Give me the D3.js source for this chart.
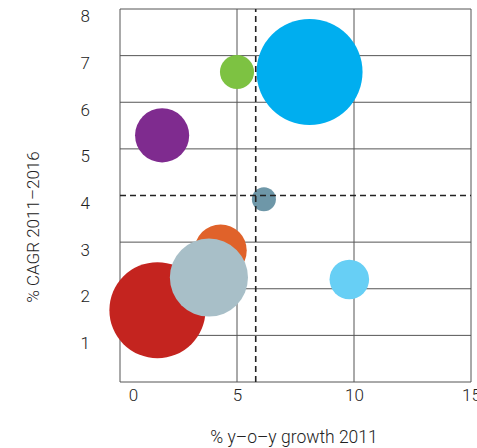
<!DOCTYPE html>
<html>
<head>
<meta charset="utf-8">
<script src="https://cdn.jsdelivr.net/npm/d3@7"></script>
<style>
  html, body { margin: 0; padding: 0; background: #fff; }
  svg text { font-family: Roboto, "Noto Sans", sans-serif; font-weight: 300; fill: #222; }
</style>
</head>
<body>
<div id="chart"></div>
<script>
// bubble data
const names  = ["orange", "red", "slate", "green", "blue", "purple", "steel", "sky"];
const growth = [4.3, 1.6, 3.8, 5.0, 8.1, 1.8, 6.15, 9.8];   // % y-o-y growth 2011
const cagr   = [2.82, 1.54, 2.24, 6.65, 6.65, 5.29, 3.92, 2.2]; // % CAGR 2011-2016
const sizes  = [6.8, 23, 15.2, 2.9, 28, 7.3, 1.44, 3.9];
const colors = ["#e0622a", "#c4241f", "#a8bfc8", "#7dc242", "#00aeef", "#7f2b8f", "#6e97a8", "#67cff5"];

const xTicks = [0, 5, 10, 15];
const yTicks = [1, 2, 3, 4, 5, 6, 7, 8];
const refX = 5.8;   // dashed vertical
const refY = 4.0;   // dashed horizontal

const W = 477, H = 448;
const margin = { top: 9, right: 6, bottom: 66, left: 120 };

const svg = d3.select("#chart").append("svg")
  .attr("width", W)
  .attr("height", H);

const x = d3.scaleLinear().domain([0, 15]).range([margin.left, W - margin.right]);
const y = d3.scaleLinear().domain([0, 8]).range([H - margin.bottom, margin.top]);
const r = d3.scaleSqrt().domain([0, 28]).range([0, 53]);

const data = names.map((n, i) => ({ name: n, gx: growth[i], cy: cagr[i], s: sizes[i], c: colors[i] }));

// grid
const grid = svg.append("g");
grid.selectAll(".hg").data(yTicks.filter(t => t !== refY)).enter().append("line")
  .attr("x1", x(0)).attr("x2", x(15))
  .attr("y1", d => y(d)).attr("y2", d => y(d))
  .attr("stroke", "#555").attr("stroke-width", 1);
grid.selectAll(".vg").data(xTicks).enter().append("line")
  .attr("y1", y(0)).attr("y2", y(8))
  .attr("x1", d => x(d)).attr("x2", d => x(d))
  .attr("stroke", "#555").attr("stroke-width", 1);
grid.append("line")
  .attr("x1", x(0)).attr("x2", x(15)).attr("y1", y(0)).attr("y2", y(0))
  .attr("stroke", "#555");

// bubbles
svg.selectAll(".bubble").data(data).enter().append("circle")
  .attr("cx", d => x(d.gx))
  .attr("cy", d => y(d.cy))
  .attr("r", d => r(d.s))
  .attr("fill", d => d.c);

// dashed reference lines
svg.append("line")
  .attr("x1", x(refX)).attr("x2", x(refX)).attr("y1", y(0)).attr("y2", y(8))
  .attr("stroke", "#222").attr("stroke-width", 1.6).attr("stroke-dasharray", "6,4");
svg.append("line")
  .attr("x1", x(0)).attr("x2", x(15)).attr("y1", y(refY)).attr("y2", y(refY))
  .attr("stroke", "#222").attr("stroke-width", 1.6).attr("stroke-dasharray", "6,4");

// axes (labels only)
const yAxis = svg.append("g")
  .attr("transform", `translate(${margin.left - 30},0)`)
  .call(d3.axisLeft(y).tickValues(yTicks).tickSize(0).tickPadding(0));
yAxis.select(".domain").remove();
yAxis.selectAll("text")
  .attr("text-anchor", "end")
  .attr("dy", "0.35em")
  .attr("y", 7)
  .style("font-size", "17px")
  .style("font-family", "Roboto, 'Noto Sans', sans-serif")
  .attr("fill", "#222");

const xAxis = svg.append("g")
  .attr("transform", `translate(0,${y(0)})`)
  .call(d3.axisBottom(x).tickValues(xTicks).tickSize(0).tickPadding(0));
xAxis.select(".domain").remove();
xAxis.selectAll("text")
  .attr("y", 7)
  .attr("dy", "0.71em")
  .attr("dx", d => d === 0 ? 13 : 0)
  .style("font-size", "17px")
  .style("font-family", "Roboto, 'Noto Sans', sans-serif")
  .attr("fill", "#222");

// axis titles
svg.append("text")
  .attr("x", 294)
  .attr("y", 443)
  .attr("text-anchor", "middle")
  .style("font-size", "17.5px")
  .text("% y–o–y growth 2011");

svg.append("text")
  .attr("transform", "translate(39,227) rotate(-90)")
  .attr("text-anchor", "middle")
  .style("font-size", "17px")
  .text("% CAGR 2011–2016");
</script>
</body>
</html>
